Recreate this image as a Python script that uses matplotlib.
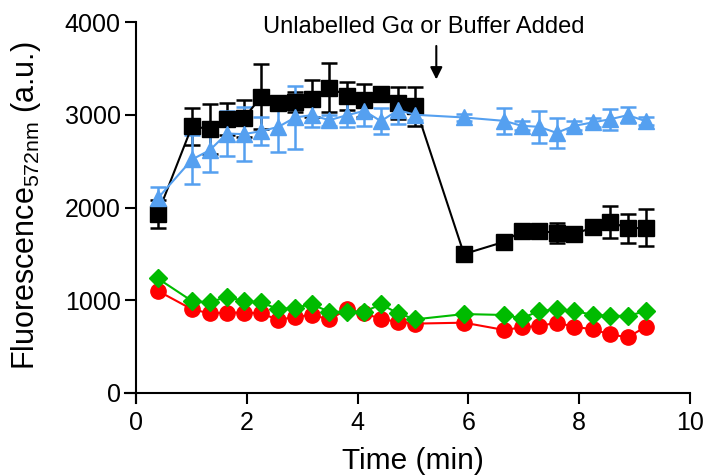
import matplotlib
matplotlib.use("Agg")
import matplotlib.pyplot as plt

plt.rcParams['font.family'] = ['Liberation Sans', 'DejaVu Sans']
plt.rcParams['mathtext.fontset'] = 'custom'
plt.rcParams['mathtext.rm'] = 'Liberation Sans'
plt.rcParams['mathtext.it'] = 'Liberation Sans:italic'

# time points (min)
time = [0.39, 1.01, 1.33, 1.64, 1.94, 2.26, 2.57, 2.87, 3.17, 3.49, 3.81, 4.12, 4.42,
        4.73, 5.04, 5.92, 6.65, 6.96, 7.28, 7.59, 7.91, 8.24, 8.56, 8.88, 9.20]

# black squares
black_y = [1930, 2877, 2845, 2952, 2960, 3193, 3122, 3139, 3175, 3293, 3204, 3157, 3229,
           3128, 3093, 1498, 1631, 1749, 1746, 1727, 1713, 1785, 1846, 1775, 1781]
black_err = [155, 200, 270, 170, 200, 350, 65, 110, 200, 265, 150, 180, 60,
             170, 210, 40, 60, 50, 50, 110, 60, 70, 175, 160, 200]

# blue triangles
blue_y = [2098, 2518, 2618, 2798, 2791, 2823, 2870, 2971, 2996, 2942, 2996, 3042, 2931,
          3050, 3000, 2971, 2934, 2881, 2870, 2805, 2881, 2917, 2952, 2996, 2931]
blue_err = [120, 260, 240, 240, 290, 150, 270, 340, 130, 60, 130, 160, 140,
            150, 60, 40, 140, 50, 175, 160, 50, 50, 115, 90, 40]

# green diamonds
green_y = [1236, 991, 977, 1038, 991, 977, 902, 919, 956, 876, 876, 876, 956,
           859, 794, 851, 841, 805, 884, 902, 887, 841, 833, 830, 884]

# red circles
red_y = [1102, 902, 859, 866, 866, 859, 787, 822, 841, 794, 902, 859, 797,
         768, 748, 758, 679, 708, 722, 758, 715, 686, 632, 600, 715]

fig = plt.figure(figsize=(7.09, 4.75), dpi=100)
ax = fig.add_axes([0.1763, 0.1516, 0.7969, 0.802])

ax.plot(time, red_y, color='#ff0000', marker='o', markersize=11, lw=1.5)
ax.plot(time, green_y, color='#00bb00', marker='D', markersize=9, lw=1.5)
ax.errorbar(time, black_y, yerr=black_err, color='black', marker='s', markersize=11,
            lw=1.5, elinewidth=1.8, capsize=6, capthick=1.8)
ax.errorbar(time, blue_y, yerr=blue_err, color='#55a0f0', marker='^', markersize=11,
            lw=1.5, elinewidth=1.8, capsize=6, capthick=1.8)

ax.set_xlim(-0.2, 10)
ax.set_ylim(-108, 4000)
ax.spines['left'].set_position(('data', 0))
ax.spines['bottom'].set_position(('data', 0))
ax.spines['right'].set_visible(False)
ax.spines['top'].set_visible(False)
ax.spines['left'].set_linewidth(1.5)
ax.spines['bottom'].set_linewidth(1.5)
ax.set_xticks([0, 2, 4, 6, 8, 10])
ax.set_yticks([0, 1000, 2000, 3000, 4000])
ax.tick_params(direction='out', length=8, width=1.5, labelsize=18)
ax.tick_params(axis='x', pad=5)
ax.tick_params(axis='y', pad=3)

ax.text(5.2, 3944, 'Unlabelled G\u03b1 or Buffer Added', ha='center', va='center', fontsize=17)
ax.annotate('', xy=(5.42, 3351), xytext=(5.42, 3772),
            arrowprops=dict(arrowstyle='-|>', color='black', lw=1.5, mutation_scale=18))

fig.text(0.5825, 0.029, 'Time (min)', ha='center', va='center', fontsize=21.5)
fig.text(0.036, 0.566, r'Fluorescence$_{\mathregular{572nm}}$ (a.u.)', ha='center',
         va='center', rotation=90, fontsize=22)

fig.savefig('out.png', dpi=100)
